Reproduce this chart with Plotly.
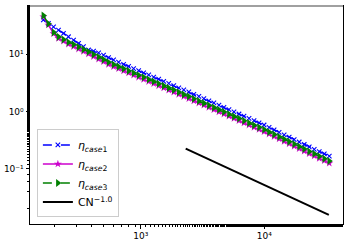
import plotly.graph_objects as go

N = [163, 179, 197, 216, 237, 260, 286, 314, 344, 378, 415, 456, 500, 549, 603,
     662, 727, 798, 876, 962, 1056, 1160, 1273, 1398, 1535, 1686, 1851, 2032,
     2231, 2450, 2690, 2954, 3243, 3561, 3910, 4293, 4714, 5176, 5683, 6240,
     6851, 7522, 8260, 9069, 9958, 10934, 12005, 13182, 14473, 15892, 17449,
     19159, 21037, 23098, 25362, 27847, 30576, 33573]

eta_case3 = [47.9, 34.3, 24.2, 20.2, 18.2, 16.3, 14.8, 13.4, 12.2, 11.1, 9.96,
             8.96, 8.08, 7.27, 6.64, 6.09, 5.58, 5.13, 4.70, 4.32, 3.96, 3.64,
             3.34, 3.06, 2.81, 2.58, 2.37, 2.17, 1.99, 1.83, 1.67, 1.53, 1.40,
             1.28, 1.175, 1.074, 0.984, 0.900, 0.822, 0.754, 0.689, 0.631,
             0.577, 0.528, 0.484, 0.439, 0.398, 0.361, 0.327, 0.297, 0.269,
             0.244, 0.221, 0.200, 0.182, 0.165, 0.150, 0.136]

eta_case1 = [40.0, 34.8, 30.3, 26.6, 23.2, 20.3, 17.7, 15.5, 13.6, 11.9, 11.4,
             10.6, 9.7, 8.72, 7.97, 7.31, 6.70, 6.16, 5.64, 5.18, 4.75, 4.37,
             4.01, 3.67, 3.37, 3.10, 2.84, 2.60, 2.39, 2.20, 2.00, 1.84, 1.68,
             1.54, 1.41, 1.29, 1.18, 1.08, 0.986, 0.905, 0.827, 0.757, 0.692,
             0.634, 0.581, 0.527, 0.478, 0.433, 0.392, 0.356, 0.323, 0.293,
             0.265, 0.240, 0.218, 0.199, 0.182, 0.166]

eta_case2 = [45.5, 32.6, 23.0, 19.0, 17.0, 15.1, 13.7, 12.4, 11.3, 10.2, 9.16,
             8.24, 7.43, 6.69, 6.11, 5.60, 5.13, 4.72, 4.32, 3.97, 3.64, 3.35,
             3.07, 2.82, 2.59, 2.37, 2.18, 2.00, 1.83, 1.68, 1.54, 1.41, 1.29,
             1.18, 1.08, 0.988, 0.905, 0.828, 0.756, 0.694, 0.634, 0.581,
             0.531, 0.486, 0.445, 0.404, 0.366, 0.332, 0.301, 0.273, 0.247,
             0.224, 0.203, 0.184, 0.167, 0.152, 0.138, 0.125]

ref_N = [2312, 33300]
ref_val = [0.224, 0.0156]

x_tickvals = [1000, 10000]
x_ticktext = ["10³", "10⁴"]
y_tickvals = [0.1, 1, 10]
y_ticktext = ["10⁻¹", "10⁰", "10¹"]

fig = go.Figure()
fig.add_trace(go.Scatter(x=N, y=eta_case1, mode="lines+markers",
                         name="<i>η</i><sub><i>case</i>1</sub>",
                         line=dict(color="blue", width=1.5, dash="dash"),
                         marker=dict(symbol="x-thin", size=4.5, color="blue",
                                     line=dict(color="blue", width=1.1))))
fig.add_trace(go.Scatter(x=N, y=eta_case2, mode="lines+markers",
                         name="<i>η</i><sub><i>case</i>2</sub>",
                         line=dict(color="#cc00cc", width=1.5),
                         marker=dict(symbol="star", size=6, color="#cc00cc")))
fig.add_trace(go.Scatter(x=N, y=eta_case3, mode="lines+markers",
                         name="<i>η</i><sub><i>case</i>3</sub>",
                         line=dict(color="green", width=1.5, dash="dash"),
                         marker=dict(symbol="triangle-right", size=7, color="green")))
fig.add_trace(go.Scatter(x=ref_N, y=ref_val, mode="lines",
                         name="CN<sup>−1.0</sup>",
                         line=dict(color="black", width=2)))

axis_common = dict(type="log", showgrid=False, zeroline=False, showline=True,
                   linecolor="black", linewidth=1, mirror=True, automargin=False,
                   ticks="outside", ticklen=3.5, tickcolor="black",
                   tickfont=dict(family="DejaVu Sans", size=9, color="black"),
                   minor=dict(ticks="outside", ticklen=2, tickcolor="black",
                              showgrid=False))

fig.update_xaxes(**axis_common, range=[2.104, 4.637],
                 tickvals=x_tickvals, ticktext=x_ticktext)
fig.update_yaxes(**axis_common, range=[-1.967, 1.845],
                 tickvals=y_tickvals, ticktext=y_ticktext)

fig.add_shape(type="line", xref="paper", yref="paper", x0=0, x1=1, y0=1, y1=1,
              line=dict(color="#a0a0a0", width=2))

fig.update_layout(
    width=349, height=244,
    margin=dict(l=30, r=6, t=6, b=20),
    paper_bgcolor="white", plot_bgcolor="white",
    font=dict(family="DejaVu Sans", color="black"),
    showlegend=True,
    legend=dict(x=0.022, y=0.03, xanchor="left", yanchor="bottom",
                bordercolor="#cccccc", borderwidth=1, bgcolor="rgba(255,255,255,0.8)",
                font=dict(family="DejaVu Sans", size=11, color="black"),
                tracegroupgap=0, itemwidth=30),
)

fig.write_html("out.html", config={"displayModeBar": False},
               post_script="document.body.style.margin='0px';document.body.style.overflow='hidden';")
